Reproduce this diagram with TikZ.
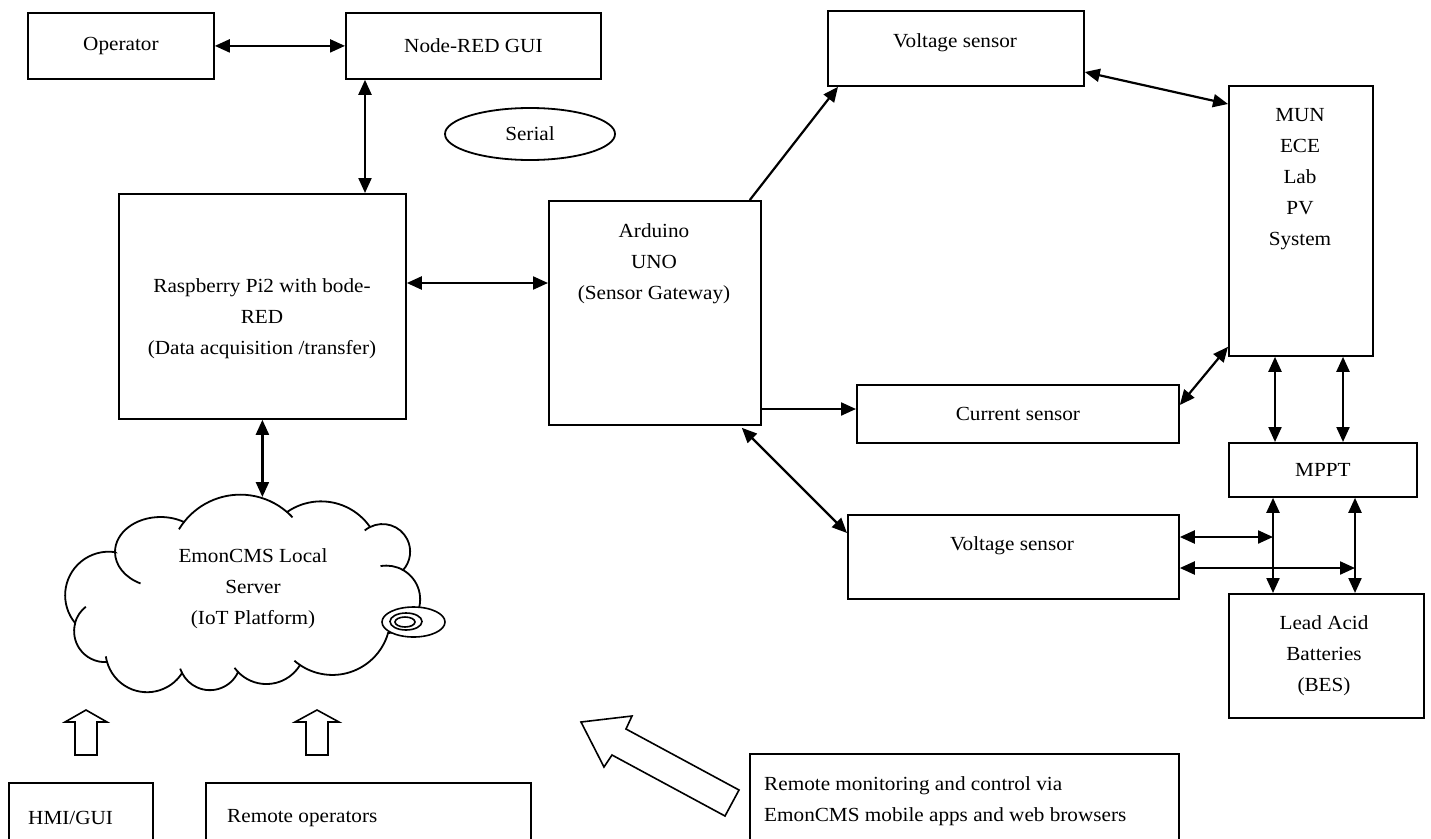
\documentclass[tikz,border=0pt]{standalone}
\usepackage{fontspec}
\setmainfont{Liberation Serif}[FakeStretch=1.06]
\usetikzlibrary{arrows.meta,calc,shapes.geometric}
\begin{document}
\begin{tikzpicture}[x=1pt,y=-1pt,
  box/.style={draw,line width=1.8pt,inner sep=0pt,anchor=north west},
  txt/.style={font=\fontsize{20}{31}\selectfont,align=center,inner sep=0pt},
  dbl/.style={line width=2.2pt,{Triangle[length=15pt,width=13pt]}-{Triangle[length=15pt,width=13pt]}},
  sgl/.style={line width=2.2pt,-{Triangle[length=15pt,width=13pt]}},
  blk/.style={draw,line width=1.6pt,fill=white,line join=miter},
  cl/.style={line width=1.8pt}
]
\useasboundingbox (0,0) rectangle (1431,838);

% boxes
\node[box,txt,minimum width=186pt,minimum height=66pt] (op) at (27,12) {Operator};
\node[box,txt,minimum width=255pt,minimum height=66pt] (nr) at (345,12) {Node-RED GUI};
\node[ellipse,draw,line width=1.8pt,minimum width=170pt,minimum height=52pt,txt] (ser) at (530,134) {Serial};
\node[box,minimum width=287pt,minimum height=225pt] (rpi) at (118,193) {};
\node[txt] (rpiT) at (262,319) {Raspberry Pi2 with bode-\\RED\\(Data acquisition /transfer)};
\node[box,minimum width=212pt,minimum height=224pt] (ard) at (548,200) {};
\node[txt] (ardT) at (654,264) {Arduino\\UNO\\(Sensor Gateway)};
\node[box,minimum width=256pt,minimum height=75pt] (vst) at (827,10) {};
\node[txt] (vstT) at (955,43) {Voltage sensor};
\node[box,minimum width=144pt,minimum height=270pt] (mun) at (1228,85) {};
\node[txt] (munT) at (1300,179) {MUN\\ECE\\Lab\\PV\\System};
\node[box,txt,minimum width=322pt,minimum height=58pt] (cur) at (856,384) {Current sensor};
\node[box,txt,minimum width=188pt,minimum height=54pt] (mppt) at (1228,442) {MPPT};
\node[box,minimum width=331pt,minimum height=84pt] (vsb) at (847,514) {};
\node[txt] (vsbT) at (1012,546) {Voltage sensor};
\node[box,minimum width=195pt,minimum height=124pt] (bat) at (1228,593) {};
\node[txt] (batT) at (1324,656) {Lead Acid\\Batteries\\(BES)};
\node[box,minimum width=144pt,minimum height=60pt] (hmi) at (8,782) {};
\node[txt,anchor=west] (hmiT) at (28,818) {HMI/GUI};
\node[box,minimum width=325pt,minimum height=60pt] (rop) at (205,782) {};
\node[txt,anchor=west] (ropT) at (227,818) {Remote operators};
\node[box,minimum width=429pt,minimum height=89pt] (rmc) at (749,753) {};
\node[txt,anchor=west,align=left] (rmcT) at (764,801) {Remote monitoring and control via\\EmonCMS mobile apps and web browsers};

% cloud outline
\draw[cl,fill=white] (115,552)
  arc[start angle=180,end angle=301.1,x radius=45.5,y radius=35]
  arc[start angle=-141.91,end angle=-49.18,radius=71.5]
  arc[start angle=-124.83,end angle=-34.69,radius=59.6]
  arc[start angle=-116.9,end angle=41.87,radius=27.6]
  arc[start angle=-60.42,end angle=87.23,radius=33.7]
  arc[start angle=16.04,end angle=124.0,radius=57.9]
  arc[start angle=31.08,end angle=136.05,radius=39.3]
  arc[start angle=24.64,end angle=153.30,radius=31.08]
  arc[start angle=32.6,end angle=164.08,radius=41.57]
  arc[start angle=86.1,end angle=195.2,radius=30.9]
  arc[start angle=140.32,end angle=278.46,radius=43.6]
  -- cycle;
% inner strokes of the cloud
\draw[cl] (115,552) arc[start angle=180,end angle=116,x radius=45.5,y radius=35];
\draw[cl] (184,522) arc[start angle=-141.91,end angle=-149,radius=71.5];
\draw[cl] (287,512) arc[start angle=-49.18,end angle=-43,radius=71.5];
\draw[cl] (370,527) arc[start angle=-116.9,end angle=-130,radius=27.6];
\draw[cl] (403,570) arc[start angle=-60.42,end angle=-100,radius=33.7];
\draw[cl] (300,665) arc[start angle=124,end angle=131,radius=57.9];
\draw[cl] (238,672) arc[start angle=136.05,end angle=144,radius=39.3];
\draw[cl] (182,673) arc[start angle=153.3,end angle=162,radius=31.08];
\draw[cl] (107,662) arc[start angle=164.08,end angle=172,radius=41.57];
\draw[cl] (75,623) arc[start angle=195.2,end angle=232,radius=30.9];
\node[txt] (cloudT) at (253,589) {EmonCMS Local\\Server\\(IoT Platform)};
\coordinate (ctop) at (262,497);
\draw[line width=1.6pt,fill=white] (413.5,622) ellipse [x radius=31.5,y radius=15];
\draw[line width=1.6pt] (406,621.5) ellipse [x radius=16,y radius=8.5];
\draw[line width=1.6pt] (405,622) ellipse [x radius=10,y radius=5];

% block arrows
\draw[blk] (86,710) -- (107,722) -- (97,722) -- (97,755) -- (75,755) -- (75,722) -- (65,722) -- cycle;
\draw[blk] (317,710) -- (339,722) -- (328,722) -- (328,755) -- (306,755) -- (306,722) -- (295,722) -- cycle;
\draw[blk] (581,722) -- (632,716) -- (626,729) -- (739,790) -- (725,816) -- (612,755) -- (604,767) -- cycle;

% connectors
\draw[dbl] (op.east) -- (nr.west);
\draw[dbl] ([xshift=20pt]nr.south west) -- ([xshift=20pt]nr.south west |- rpi.north);
\draw[dbl] ([yshift=-90pt]rpi.north east) -- ([yshift=-90pt]rpi.north east -| ard.west);
\draw[dbl] (rpi.south) -- (rpi.south |- ctop);
\draw[sgl] ([xshift=-12pt]ard.north east) -- ([xshift=11pt]vst.south west);
\draw[dbl] ([yshift=-62pt]vst.north east) -- ([yshift=-19pt]mun.north west);
\draw[sgl] ([yshift=-209pt]ard.north east) -- ([yshift=-209pt]ard.north east -| cur.west);
\draw[dbl] ([yshift=-21pt]cur.north east) -- ([yshift=10pt]mun.south west);
\draw[dbl] ([xshift=-20pt,yshift=-2pt]ard.south east) -- ([yshift=-19pt]vsb.north west);
\draw[dbl] ([xshift=47pt]mun.south west) -- ([xshift=47pt]mun.south west |- mppt.north);
\draw[dbl] ([xshift=115pt]mun.south west) -- ([xshift=115pt]mun.south west |- mppt.north);
\coordinate (v1) at ([xshift=45pt]mppt.south west);
\coordinate (v2) at ([xshift=127pt]mppt.south west);
\draw[dbl] (v1) -- (v1 |- bat.north);
\draw[dbl] (v2) -- (v2 |- bat.north);
\coordinate (p1) at ([yshift=-23pt]vsb.north east);
\coordinate (p2) at ([yshift=-54pt]vsb.north east);
\draw[dbl] (p1) -- (p1 -| v1);
\draw[dbl] (p2) -- (p2 -| v2);
\end{tikzpicture}
\end{document}
